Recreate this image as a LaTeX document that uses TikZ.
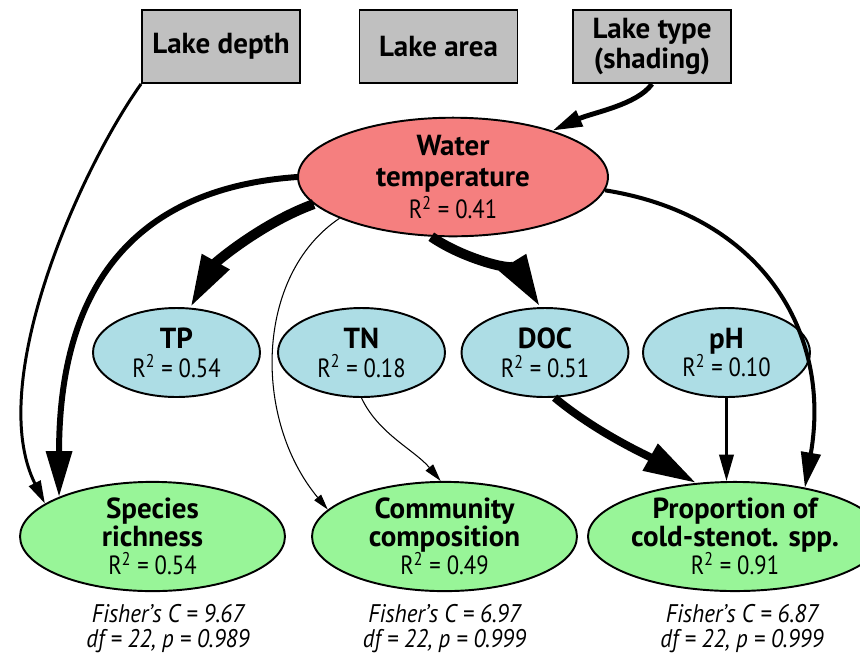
\documentclass[tikz,border=0pt]{standalone}
\usepackage{fontspec}
\setmainfont{PT Sans}
\usepackage{graphicx}
\usetikzlibrary{arrows.meta, positioning, shapes.geometric}
\definecolor{tempred}{HTML}{F57F7F}
\definecolor{chemblue}{HTML}{ADDDE5}
\definecolor{respgreen}{HTML}{98F598}
\definecolor{predgray}{HTML}{C0C0C0}
\newcommand{\rsqr}[1]{{\mdseries\fontsize{15}{15}\selectfont\scalebox{0.86}[1]{R\textsuperscript{2} = #1}}}
\newcommand{\narrowtxt}[1]{\scalebox{0.9}[1]{#1}}
\newcommand{\tightlines}{\lineskiplimit=-6pt\relax}

\begin{document}
\begin{tikzpicture}[x=0.02cm, y=-0.02cm,
      predbox/.style={rectangle, draw, line width=1.1pt, fill=predgray, inner sep=0pt,
                      minimum width=3.16cm, minimum height=1.46cm, align=center,
                      font=\fontsize{16.5}{17}\selectfont\bfseries},
      tempnode/.style={ellipse, draw, line width=1.1pt, fill=tempred, inner sep=0pt,
                      minimum width=6.2cm, minimum height=2.04cm, align=center,
                      font=\fontsize{16.5}{18}\selectfont\bfseries\tightlines},
      chemnode/.style={ellipse, draw, line width=1.1pt, fill=chemblue, inner sep=0pt,
                      minimum width=3.34cm, minimum height=1.78cm, align=center,
                      font=\fontsize{16.5}{16.5}\selectfont\bfseries\tightlines},
      respnode/.style={ellipse, draw, line width=1.1pt, fill=respgreen, inner sep=0pt,
                      minimum width=5.3cm, minimum height=2.06cm, align=center,
                      font=\fontsize{16.5}{16}\selectfont\bfseries\tightlines},
      fisher/.style={inner sep=0pt, align=center, font=\fontsize{14.5}{14.2}\selectfont\itshape\tightlines},
      arr/.style 2 args={line width=#1, -{Triangle[length=#2, width'=0pt 0.55]}}
    ]
      \useasboundingbox (0,0) rectangle (860,654);
      % predictors
      \node[predbox] (depth) at (221,46.5) {Lake depth};
      \node[predbox] (area) at (438.5,46.5) {Lake area};
      \node[predbox] (ltype) at (652,46.5) {Lake type\\(shading)};
      \node[tempnode] (temp) at (453,177) {Water\\temperature\\\rsqr{0.41}};
      % water chemistry
      \node[chemnode] (tp) at (176.5,352.5) {TP\\\rsqr{0.54}};
      \node[chemnode] (tn) at (361.5,352.5) {TN\\\rsqr{0.18}};
      \node[chemnode] (doc) at (545,352.5) {DOC\\\rsqr{0.51}};
      \node[chemnode] (ph) at (726.5,352.5) {pH\\\rsqr{0.10}};
      % responses
      \node[respnode] (rich) at (152.5,536.5) {Species\\richness\\\rsqr{0.54}};
      \node[respnode] (comp) at (444.5,536.5) {Community\\composition\\\rsqr{0.49}};
      \node[respnode] (cold) at (735,536.5) {Proportion of\\cold-stenot. spp.\\\rsqr{0.91}};
      \node[fisher, below=7pt of rich, xshift=0.31cm] (fitrich) {\narrowtxt{Fisher's C = 9.67}\\\narrowtxt{df = 22, p = 0.989}};
      \node[fisher, below=7pt of comp] (fitcomp) {\narrowtxt{Fisher's C = 6.97}\\\narrowtxt{df = 22, p = 0.999}};
      \node[fisher, below=7pt of cold, xshift=0.14cm] (fitcold) {\narrowtxt{Fisher's C = 6.87}\\\narrowtxt{df = 22, p = 0.999}};
      % paths
      \draw[arr={1.7pt}{13pt}] (depth.south west) .. controls +(-62,87) and +(-60,-120) .. (rich.163);
      \draw[arr={3.4pt}{26pt}] (temp.180) .. controls +(-170,12) and +(0,-202) .. (rich.157);
      \draw[arr={5.7pt}{30pt}] (temp.191) .. controls +(-52,19) and +(25,-45) .. (tp.73);
      \draw[arr={0.6pt}{9pt}] (temp.200) .. controls +(-85,57) and +(-75,-90) .. (comp.167);
      \draw[arr={5.7pt}{30pt}] (temp.250) .. controls +(33,23) and +(-21,-34) .. (doc.96);
      \draw[arr={2.3pt}{20pt}] (temp.-5) .. controls +(157,25) and +(27,-155) .. (cold.35);
      \draw[arr={2.8pt}{17pt}] (ltype.south) .. controls +(-15,21) and +(40,-18) .. (temp.25);
      \draw[arr={0.6pt}{10pt}] (tn.south) .. controls +(17,36) and +(-26,-31) .. (comp.94);
      \draw[arr={4.5pt}{30pt}] (doc.282) .. controls +(42,35) and +(-48,-27) .. (cold.126);
      \draw[arr={1.2pt}{15pt}] (ph.south) -- (ph.south |- cold.north);
    \end{tikzpicture}
\end{document}
